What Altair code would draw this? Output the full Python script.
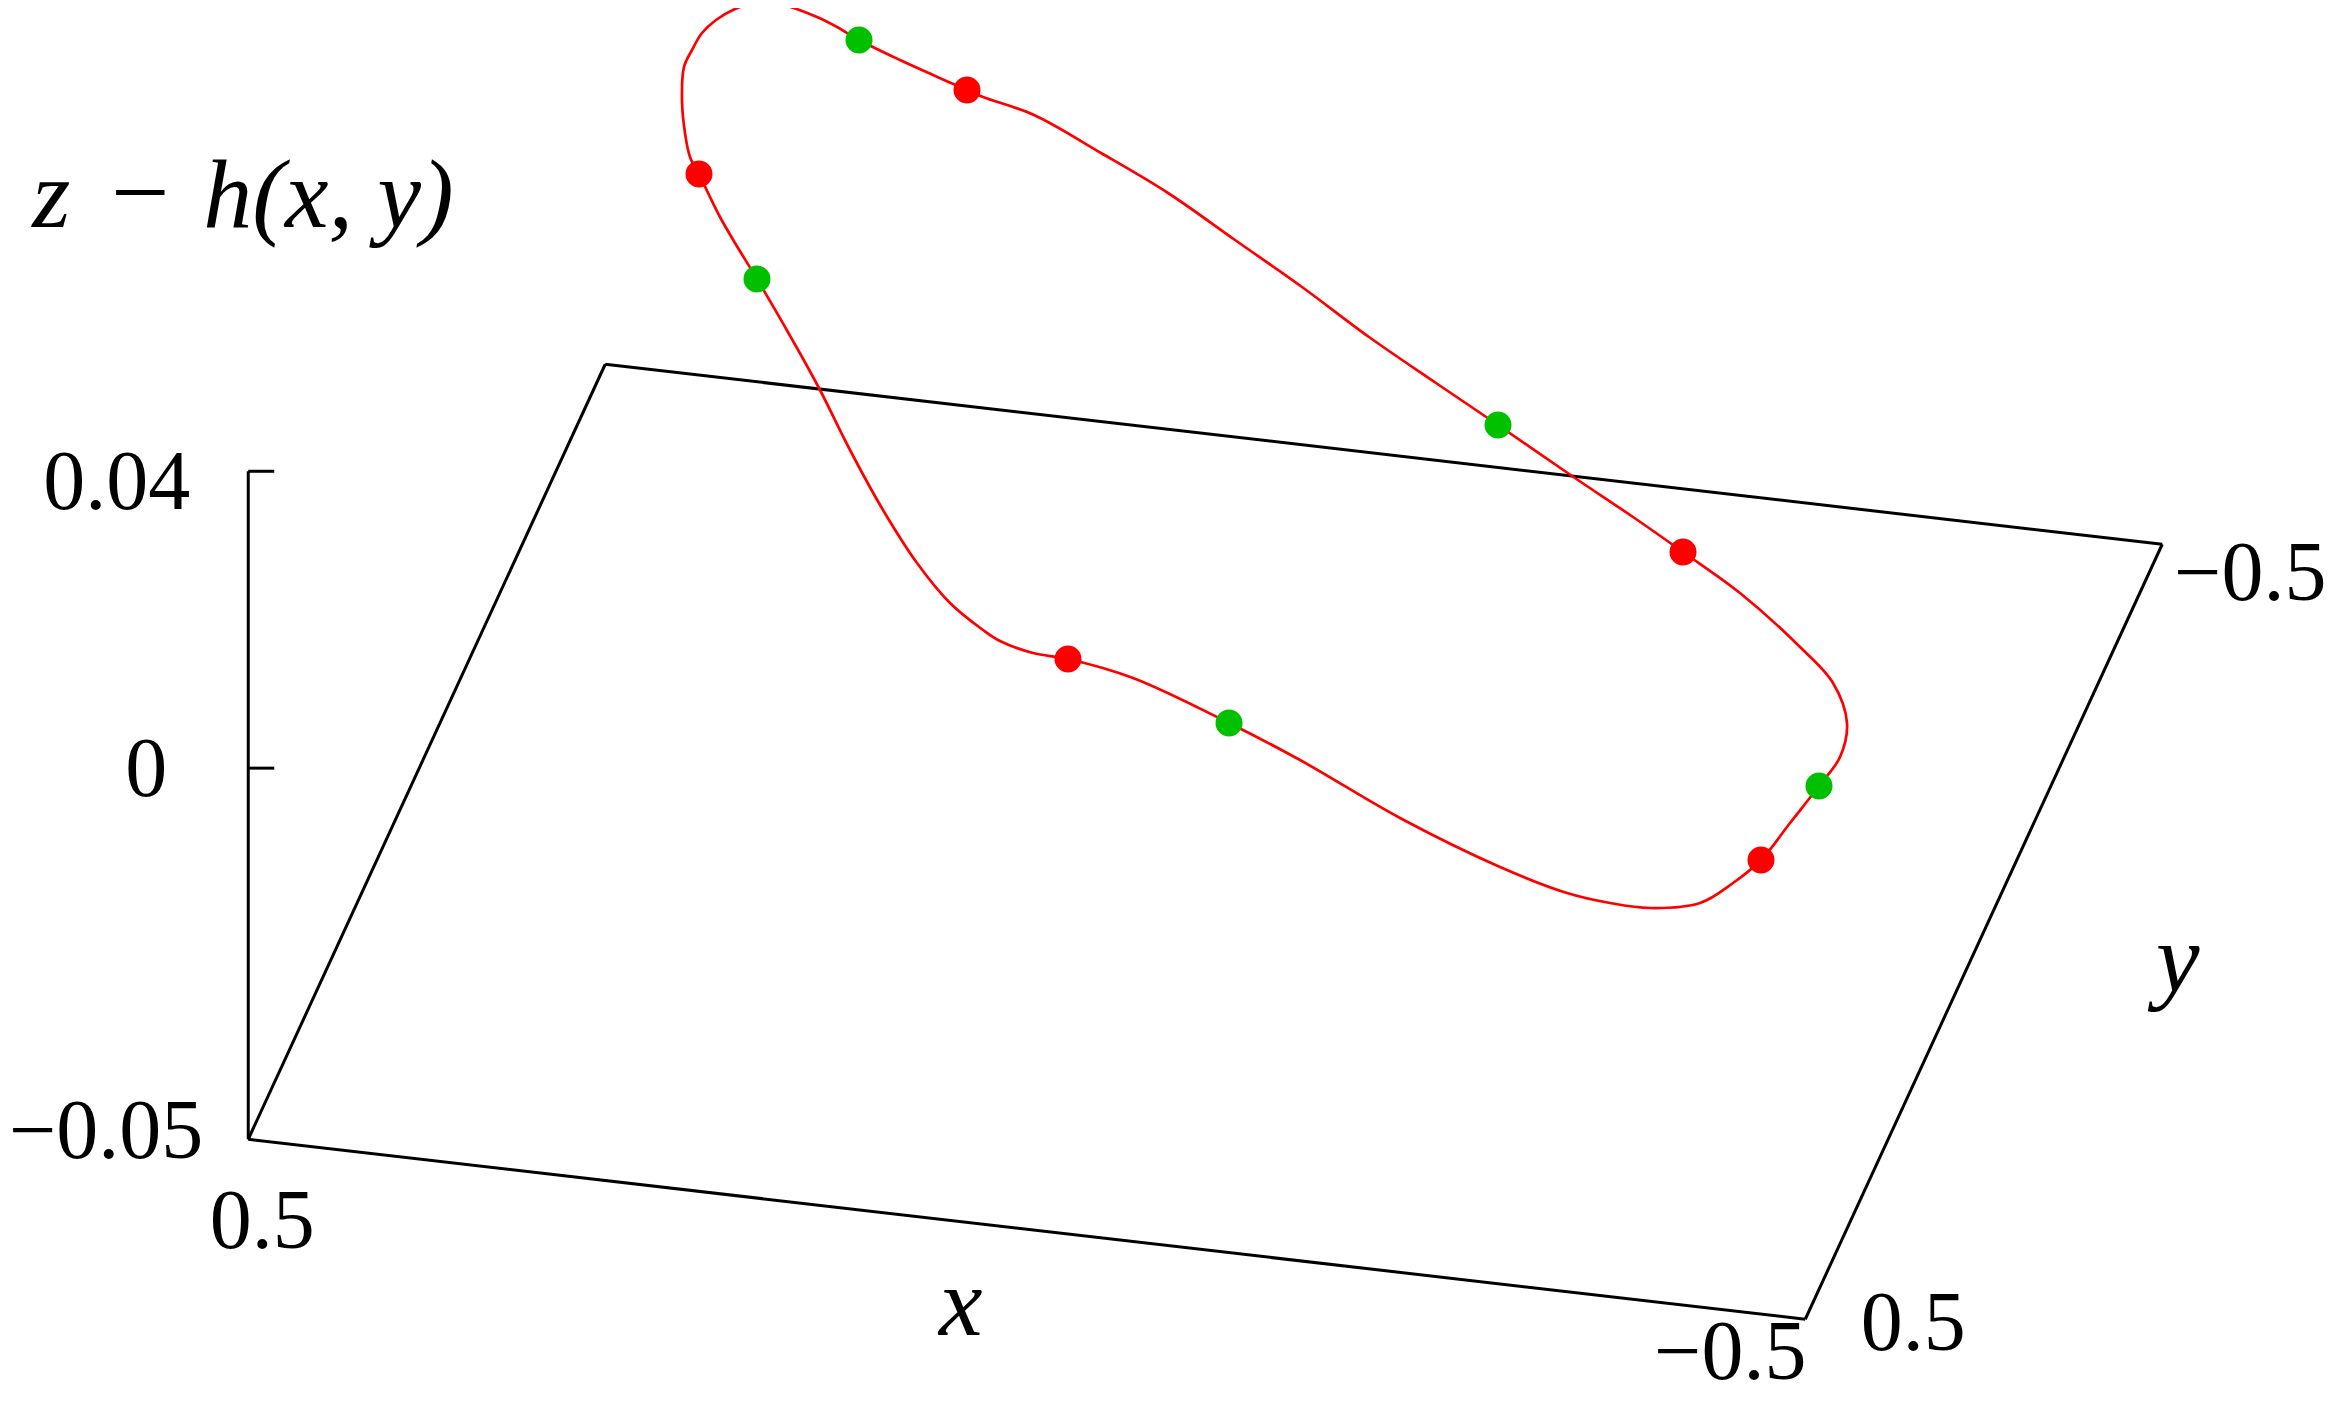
import altair as alt
import pandas as pd

# ---------------- data ----------------
x_range = [0.5, -0.5]
y_range = [0.5, -0.5]
z_range = [-0.05, 0.04]

z_ticks = [-0.05, 0.0, 0.04]
z_tick_labels = ["\u22120.05", "0", "0.04"]
x_ticks = [0.5, -0.5]
x_tick_labels = ["0.5", "\u22120.5"]
y_ticks = [0.5, -0.5]
y_tick_labels = ["0.5", "\u22120.5"]

# projected (image-plane) coordinates of the closed curve
curve_u = [699, 710, 720, 735, 757, 797, 820, 850, 883, 917, 950, 983, 1000, 1033, 1068,
           1133, 1229, 1300, 1400, 1500, 1567, 1610, 1650, 1700, 1733, 1761, 1790, 1819,
           1840, 1847, 1833, 1800, 1740, 1683, 1633, 1572, 1498, 1436, 1369, 1302, 1235,
           1168, 1101, 1034, 983, 967, 933, 900, 859, 837, 817, 783, 755, 735, 716, 702,
           692, 684, 682, 685, 690, 699]
curve_v = [174, 197, 217, 243, 279, 348, 390, 450, 510, 563, 603, 630, 641, 653, 659,
           678, 723, 760, 818, 867, 893, 903, 908, 903, 883, 860, 823, 786,
           757, 723, 683, 647, 593, 552, 517, 476, 425, 383, 337, 287, 240,
           193, 153, 115, 97, 90, 75, 60, 40, 27, 17, 5, 3, 9, 20, 33,
           50, 67, 100, 133, 157, 174]

red_u = [699, 967, 1683, 1761, 1068]
red_v = [174, 90, 552, 860, 659]
green_u = [859, 757, 1498, 1819, 1229]
green_v = [40, 279, 425, 786, 723]

# ---------------- projection of the 3-D box ----------------
def proj(x, y, z):
    u = 1205.25 - 1557 * x - 357 * y
    v = 841.75 - 180 * x + 775 * y - 7422 * (z - z_range[0])
    return u, v

W, H = 2317, 1390
X = alt.X("u:Q", scale=alt.Scale(domain=[8, 8 + W], nice=False, zero=False), axis=None)
Y = alt.Y("v:Q", scale=alt.Scale(domain=[8, 8 + H], reverse=True, nice=False, zero=False), axis=None)

zb = z_range[0]
corners = [(x_range[0], y_range[0]), (x_range[1], y_range[0]),
           (x_range[1], y_range[1]), (x_range[0], y_range[1])]
rows = []
for s in range(4):
    a = corners[s]
    b = corners[(s + 1) % 4]
    for k, p in enumerate([a, b]):
        u, v = proj(p[0], p[1], zb)
        rows.append({"seg": s, "k": k, "u": u, "v": v})
# vertical z axis
for k, zz in enumerate([z_range[0], z_range[1]]):
    u, v = proj(x_range[0], y_range[0], zz)
    rows.append({"seg": 4, "k": k, "u": u, "v": v})
box_df = pd.DataFrame(rows)

box = alt.Chart(box_df).mark_line(color="black", strokeWidth=3).encode(
    x=X, y=Y, detail="seg:N", order="k:Q")

tick_rows = []
for zz in z_ticks[1:]:
    u, v = proj(x_range[0], y_range[0], zz)
    tick_rows.append({"u": u, "u2": u + 26, "v": v})
ticks = alt.Chart(pd.DataFrame(tick_rows)).mark_rule(color="black", strokeWidth=3).encode(
    x=X, x2="u2:Q", y=Y)

curve_df = pd.DataFrame({"u": curve_u, "v": curve_v, "i": range(len(curve_u))})
curve = alt.Chart(curve_df).mark_line(color="#ff0000", strokeWidth=2.7,
                                      interpolate="catmull-rom").encode(
    x=X, y=Y, order="i:Q")

red = alt.Chart(pd.DataFrame({"u": red_u, "v": red_v})).mark_point(
    filled=True, shape="circle", size=730, color="#ff0000", opacity=1).encode(x=X, y=Y)
green = alt.Chart(pd.DataFrame({"u": green_u, "v": green_v})).mark_point(
    filled=True, shape="circle", size=730, color="#00c000", opacity=1).encode(x=X, y=Y)

FONT = "Liberation Serif"
TICK_FS = 84
LAB_FS = 98


def label(text, anchor, dx, dy, align="center", size=TICK_FS, style="normal"):
    u, v = anchor
    return alt.Chart(pd.DataFrame({"u": [u], "v": [v], "t": [text]})).mark_text(
        align=align, baseline="alphabetic", dx=dx, dy=dy, font=FONT,
        fontSize=size, fontStyle=style, color="black").encode(x=X, y=Y, text="t:N")


layers = [box, ticks, curve, red, green]

# z tick labels
z_offsets = [(-45, 19), (-81, 28), (-58, 38)]
for zz, t, (dx, dy) in zip(z_ticks, z_tick_labels, z_offsets):
    layers.append(label(t, proj(x_range[0], y_range[0], zz), dx, dy, align="right"))

# x tick labels
x_offsets = [(14, 109), (-75, 60)]
for xx, t, (dx, dy) in zip(x_ticks, x_tick_labels, x_offsets):
    layers.append(label(t, proj(xx, y_range[0], zb), dx, dy))

# y tick labels
y_offsets = [(108, 31), (88, 56)]
for yy, t, (dx, dy) in zip(y_ticks, y_tick_labels, y_offsets):
    layers.append(label(t, proj(x_range[1], yy, zb), dx, dy))

# axis labels
layers.append(label("x", proj(0, y_range[0], zb), -66, 106, size=LAB_FS, style="italic"))
layers.append(label("y", proj(x_range[1], 0, zb), 194, 59, size=LAB_FS, style="italic"))

ztop = proj(x_range[0], y_range[0], z_range[1])
layers.append(label("z", ztop, -216, -244, align="left", size=LAB_FS, style="italic"))
layers.append(label("\u2212", ztop, -108, -244, align="center", size=104))
layers.append(label("h(x, y)", ztop, -45, -244, align="left", size=LAB_FS, style="italic"))

chart = alt.layer(*layers).properties(
    width=W, height=H, autosize=alt.AutoSizeParams(type="none"), padding=0,
    background="white"
).configure_view(stroke=None)

chart.save("out.html", embed_options={"renderer": "svg", "actions": False})
